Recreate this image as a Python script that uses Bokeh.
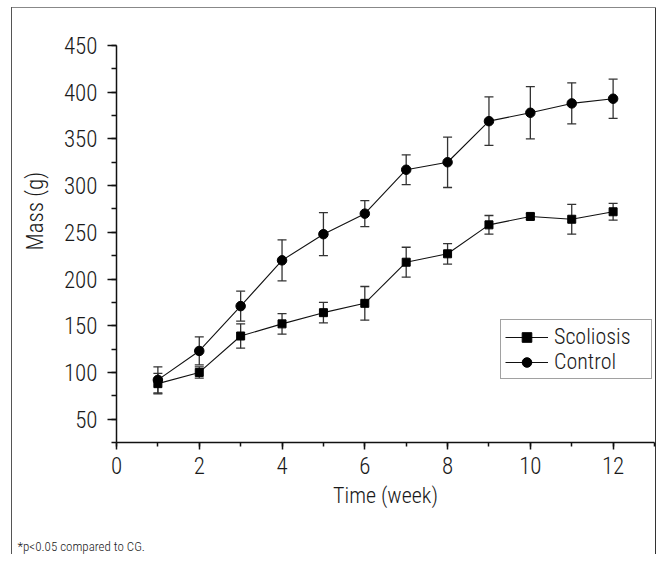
from bokeh.plotting import figure
from bokeh.models import (ColumnDataSource, Whisker, TeeHead, Legend, LegendItem,
                          SingleIntervalTicker, Range1d, Title)
from bokeh.embed import file_html
from bokeh.resources import INLINE

# ---- data ----
weeks = [1, 2, 3, 4, 5, 6, 7, 8, 9, 10, 11, 12]
scoliosis = [88, 100, 139, 152, 164, 174, 218, 227, 258, 267, 264, 272]
scoliosis_err = [11, 6, 13, 11, 11, 18, 16, 11, 10, 3, 16, 9]
control = [92, 123, 171, 220, 248, 270, 317, 325, 369, 378, 388, 393]
control_err = [14, 15, 16, 22, 23, 14, 16, 27, 26, 28, 22, 21]

x_label = "Time (week)"
y_label = "Mass (g)"
series_names = ["Scoliosis", "Control"]
footnote = "*p<0.05 compared to CG."

FONT = "Roboto Condensed Light, Roboto Condensed, DejaVu Sans Condensed, Liberation Sans"
TXT = "#1a1a1a"

p = figure(width=656, height=554, output_backend="svg", toolbar_location=None,
           x_range=Range1d(0, 13), y_range=Range1d(25, 450),
           min_border_left=116, min_border_right=2, min_border_top=45, min_border_bottom=112)
p.outline_line_color = None
p.grid.grid_line_color = None
p.background_fill_color = None
p.border_fill_color = None
p.styles = {
    "background-color": "white",
    "background-image": "linear-gradient(#555555,#555555), linear-gradient(#888888,#888888), linear-gradient(#333333,#333333)",
    "background-repeat": "no-repeat",
    "background-size": "1px 100%, 100% 1px, 1px 100%",
    "background-position": "11px 7px, 11px 7px, 655px 7px",
}

src_s = ColumnDataSource(dict(x=weeks, y=scoliosis,
                              lo=[v - e for v, e in zip(scoliosis, scoliosis_err)],
                              hi=[v + e for v, e in zip(scoliosis, scoliosis_err)]))
src_c = ColumnDataSource(dict(x=weeks, y=control,
                              lo=[v - e for v, e in zip(control, control_err)],
                              hi=[v + e for v, e in zip(control, control_err)]))

for src in (src_s, src_c):
    w = Whisker(source=src, base="x", lower="lo", upper="hi",
                line_color="#333333", line_width=1.3,
                lower_head=TeeHead(size=9, line_color="#333333", line_width=1.3),
                upper_head=TeeHead(size=9, line_color="#333333", line_width=1.3))
    p.add_layout(w)

ls = p.line("x", "y", source=src_s, line_color="#111111", line_width=1.1)
ms = p.scatter("x", "y", source=src_s, marker="square", size=8, fill_color="black", line_color="black")
lc = p.line("x", "y", source=src_c, line_color="#111111", line_width=1.1)
mc = p.scatter("x", "y", source=src_c, marker="circle", size=9.5, fill_color="black", line_color="black")

# axes
p.xaxis.ticker = SingleIntervalTicker(interval=2, num_minor_ticks=2)
p.yaxis.ticker = SingleIntervalTicker(interval=50, num_minor_ticks=2)
for ax in (p.xaxis[0], p.yaxis[0]):
    ax.axis_line_color = "#111111"
    ax.axis_line_width = 1.5
    ax.major_tick_line_color = "#111111"
    ax.minor_tick_line_color = "#111111"
    ax.major_tick_line_width = 1.5
    ax.minor_tick_line_width = 1.5
    ax.major_tick_in = 0
    ax.minor_tick_in = 0
    ax.major_label_text_font = FONT
    ax.major_label_text_font_size = "23px"
    ax.major_label_text_color = TXT
    ax.axis_label_text_font = FONT
    ax.axis_label_text_font_size = "22px"
    ax.axis_label_text_font_style = "normal"
    ax.axis_label_text_color = TXT

p.xaxis.axis_label = x_label
p.xaxis.major_tick_out = 7
p.xaxis.minor_tick_out = 4
p.yaxis.major_tick_out = 9
p.yaxis.minor_tick_out = 5
p.xaxis.major_label_standoff = 7
p.yaxis.major_label_standoff = 10
p.xaxis.axis_label_standoff = 6

# y axis title placed above the frame centre, as in the reference
ytitle = Title(text=y_label, align="left", offset=192, standoff=24,
               text_font=FONT, text_font_size="23px", text_font_style="normal",
               text_color=TXT)
p.add_layout(ytitle, "left")

legend = Legend(items=[LegendItem(label=series_names[0], renderers=[ls, ms]),
                       LegendItem(label=series_names[1], renderers=[lc, mc])],
                location=(384, 63), orientation="vertical",
                glyph_width=43, glyph_height=24, label_height=24, label_width=93,
                label_standoff=6, padding=4, spacing=0, margin=0,
                border_line_color="#444444", border_line_width=1.2,
                background_fill_color="white", background_fill_alpha=1,
                label_text_font=FONT, label_text_font_size="22px", label_text_color=TXT)
p.add_layout(legend)

# footnote: an empty first line pushes the note to the bottom of the page
note = Title(text=" \n" + footnote, align="left", offset=-99, standoff=0,
             vertical_align="bottom", text_line_height=1.7,
             text_font=FONT, text_font_size="13px", text_font_style="normal",
             text_color=TXT)
p.add_layout(note, "below")

open("out.html", "w").write(file_html(p, INLINE))
